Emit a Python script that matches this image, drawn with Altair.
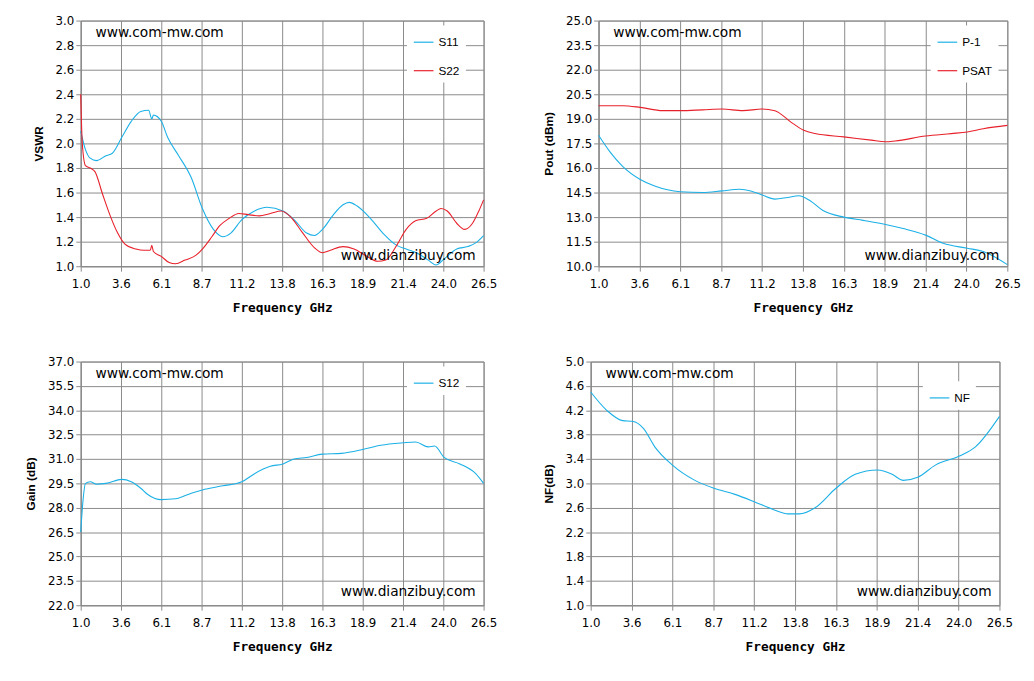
import altair as alt
import pandas as pd

# ---- VSWR ----
s11_f = [1.0, 1.3, 1.6, 2.0, 2.6, 3.0, 3.6, 4.2, 4.8, 5.3, 5.5, 5.6, 6.1, 6.5, 7.2, 8.0, 8.7, 9.4, 10.0, 10.5,
         11.2, 12.0, 12.8, 13.8, 14.5, 15.3, 15.8, 16.3, 17.0, 17.6, 18.0, 18.5, 19.4, 20.2, 21.0, 21.6,
         22.4, 23.0, 23.5, 24.0, 24.8, 25.5, 26.0, 26.5]
s11_v = [2.1, 1.95, 1.88, 1.86, 1.9, 1.92, 2.05, 2.18, 2.26, 2.27, 2.2, 2.23, 2.18, 2.05, 1.9, 1.72, 1.47, 1.3, 1.24, 1.27,
         1.38, 1.45, 1.48, 1.45, 1.38, 1.27, 1.25, 1.3, 1.42, 1.5, 1.52, 1.49, 1.38, 1.26, 1.17, 1.14,
         1.1, 1.05, 1.01, 1.06, 1.14, 1.16, 1.19, 1.25]
s22_f = [1.0, 1.1, 1.3, 1.6, 1.9, 2.4, 2.9, 3.3, 3.8, 4.5, 5.0, 5.4, 5.5, 5.6, 6.1, 6.6, 7.0, 7.6, 8.3, 8.7,
         9.3, 9.8, 10.4, 11.0, 11.6, 12.3, 13.0, 13.7, 14.3, 15.0, 15.8, 16.3, 16.8, 17.6, 18.3, 19.0,
         19.8, 20.3, 21.0, 21.6, 22.2, 22.9, 23.5, 23.8, 24.2, 24.8, 25.3, 25.8, 26.2, 26.5]
s22_v = [2.4, 2.0, 1.82, 1.8, 1.77, 1.58, 1.4, 1.28, 1.18, 1.14, 1.13, 1.13, 1.17, 1.12, 1.08, 1.03, 1.02, 1.05, 1.09, 1.14,
         1.24, 1.33, 1.39, 1.43, 1.42, 1.41, 1.43, 1.45, 1.4, 1.28, 1.15, 1.11, 1.13, 1.16, 1.14, 1.09,
         1.04, 1.05, 1.17, 1.3, 1.37, 1.39, 1.45, 1.47, 1.45, 1.35, 1.3, 1.35, 1.45, 1.54]

# ---- Pout ----
psat_f = [1.0, 2.5, 3.6, 5.0, 6.1, 7.5, 8.7, 10.0, 11.2, 12.0, 13.0, 13.8, 14.5, 16.3, 18.0, 18.9, 19.5, 21.4, 23.0, 24.0, 25.0, 26.5]
psat_v = [19.8, 19.8, 19.7, 19.5, 19.5, 19.55, 19.6, 19.5, 19.6, 19.5, 18.8, 18.3, 18.1, 17.9, 17.7, 17.6, 17.65, 17.95, 18.1, 18.2, 18.4, 18.6]
p1_f = [1.0, 1.7, 2.5, 3.6, 4.5, 6.1, 7.5, 8.7, 9.8, 10.5, 11.2, 12.0, 12.8, 13.5, 14.2, 15.0, 16.3, 17.5, 18.9, 20.0, 21.4, 22.5, 24.0, 25.0, 26.5]
p1_v = [18.0, 17.0, 16.1, 15.3, 14.9, 14.55, 14.5, 14.6, 14.7, 14.6, 14.35, 14.1, 14.2, 14.3, 14.0, 13.4, 13.0, 12.8, 12.55, 12.3, 11.9, 11.4, 11.1, 10.9, 10.1]

# ---- Gain ----
s12_f = [1.0, 1.15, 1.3, 1.6, 2.0, 2.6, 3.6, 4.2, 4.8, 5.2, 6.1, 7.0, 8.0, 8.7, 10.0, 11.2, 12.0, 13.0, 13.8, 14.5,
         15.3, 16.3, 17.5, 18.9, 20.0, 21.4, 22.2, 23.0, 23.4, 24.0, 25.0, 26.0, 26.5]
s12_v = [26.5, 28.5, 29.5, 29.6, 29.45, 29.5, 29.75, 29.6, 29.2, 28.85, 28.5, 28.55, 28.9, 29.1, 29.35, 29.6, 30.1, 30.55, 30.7, 31.0,
         31.1, 31.3, 31.35, 31.6, 31.85, 32.0, 32.05, 31.75, 31.8, 31.1, 30.7, 30.1, 29.5]

# ---- NF ----
nf_f = [1.0, 2.0, 3.0, 3.6, 4.3, 5.0, 6.1, 7.5, 8.7, 10.0, 11.2, 12.5, 13.3, 14.0, 15.0, 16.3, 17.5, 18.9, 19.8, 20.5, 21.4, 22.5, 24.0, 25.0, 26.5]
nf_v = [4.5, 4.2, 4.03, 4.02, 3.9, 3.6, 3.3, 3.05, 2.92, 2.82, 2.7, 2.56, 2.5, 2.5, 2.6, 2.92, 3.15, 3.22, 3.15, 3.05, 3.1, 3.3, 3.45, 3.6, 4.1]

x_ticks = [1.0, 3.55, 6.1, 8.65, 11.2, 13.75, 16.3, 18.85, 21.4, 23.95, 26.5]
CYAN = "#1cb0e6"
RED = "#e8202a"
H = 250


def frame(series):
    rows = []
    for name, fs, vs in series:
        rows += [{"f": f, "v": v, "s": name} for f, v in zip(fs, vs)]
    return pd.DataFrame(rows)


def panel(series, colors, ylo, yhi, ystep, ytitle, dianzi_y, legend_y, w, h=H):
    df = frame(series)
    names = [s[0] for s in series]
    n = int(round((yhi - ylo) / ystep))
    yvals = [round(ylo + i * ystep, 2) for i in range(n + 1)]
    x = alt.X("f:Q", scale=alt.Scale(domain=[1.0, 26.5], nice=False),
              axis=alt.Axis(values=x_ticks, labelExpr="format(datum.value + 0.001, '.1f')",
                            labelFlush=False, labelOverlap=False, labelPadding=8,
                            title="Frequency GHz", titleFont="DejaVu Sans Mono", titleFontSize=13,
                            titleFontWeight="bold", titlePadding=12))
    y = alt.Y("v:Q", scale=alt.Scale(domain=[ylo, yhi], nice=False, zero=False),
              axis=alt.Axis(values=yvals, format=".1f", title=ytitle, titleFontWeight="bold",
                            labelFlush=False, labelOverlap=False,
                            titleFontSize=12, titlePadding=10))
    lines = alt.Chart(df).mark_line(strokeWidth=1.1, interpolate="monotone").encode(
        x=x, y=y,
        color=alt.Color("s:N", scale=alt.Scale(domain=names, range=colors),
                        legend=alt.Legend(title=None, orient="none", legendX=w - 78, legendY=legend_y,
                                          fillColor="white", padding=6, symbolType="stroke",
                                          symbolStrokeWidth=1.2, labelFontSize=12, rowPadding=12,
                                          symbolSize=400)),
    )
    t1 = alt.Chart(pd.DataFrame({"t": ["www.com-mw.com"]})).mark_text(
        align="left", baseline="middle", fontSize=14, font="DejaVu Sans").encode(
        x=alt.value(15), y=alt.value(13), text="t:N")
    t2 = alt.Chart(pd.DataFrame({"t": ["www.dianzibuy.com"]})).mark_text(
        align="right", baseline="middle", fontSize=14, font="DejaVu Sans").encode(
        x=alt.value(w - 8), y=alt.value(dianzi_y), text="t:N")
    return alt.layer(lines, t1, t2).properties(width=w, height=h)


vswr = panel([("S11", s11_f, s11_v), ("S22", s22_f, s22_v)], [CYAN, RED],
             1.0, 3.0, 0.2, "VSWR", 240, 5, 410)
pout = panel([("P-1", p1_f, p1_v), ("PSAT", psat_f, psat_v)], [CYAN, RED],
             10.0, 25.0, 1.5, "Pout (dBm)", 240, 5, 416)
gain = panel([("S12", s12_f, s12_v)], [CYAN],
             22.0, 37.0, 1.5, "Gain (dB)", 235, 5, 410, 248)
nf = panel([("NF", nf_f, nf_v)], [CYAN],
           1.0, 5.0, 0.4, "NF(dB)", 235, 20, 416, 248)

chart = alt.vconcat(
    alt.hconcat(vswr, pout, spacing=45).resolve_scale(color="independent"),
    alt.hconcat(gain, nf, spacing=45).resolve_scale(color="independent"),
    spacing=40,
).resolve_scale(color="independent").configure_axis(
    gridColor="#8a8a8a", gridWidth=1, domainColor="#8a8a8a", tickColor="#8a8a8a",
    labelColor="black", labelFontSize=12, labelFont="DejaVu Sans", titleColor="black",
).configure_view(stroke="#8a8a8a").configure_legend(labelColor="black").properties(
    background="white", padding={"left": 16, "top": 0, "right": 5, "bottom": 5})

chart.save("out.html", embed_options={"renderer": "svg", "actions": False})
